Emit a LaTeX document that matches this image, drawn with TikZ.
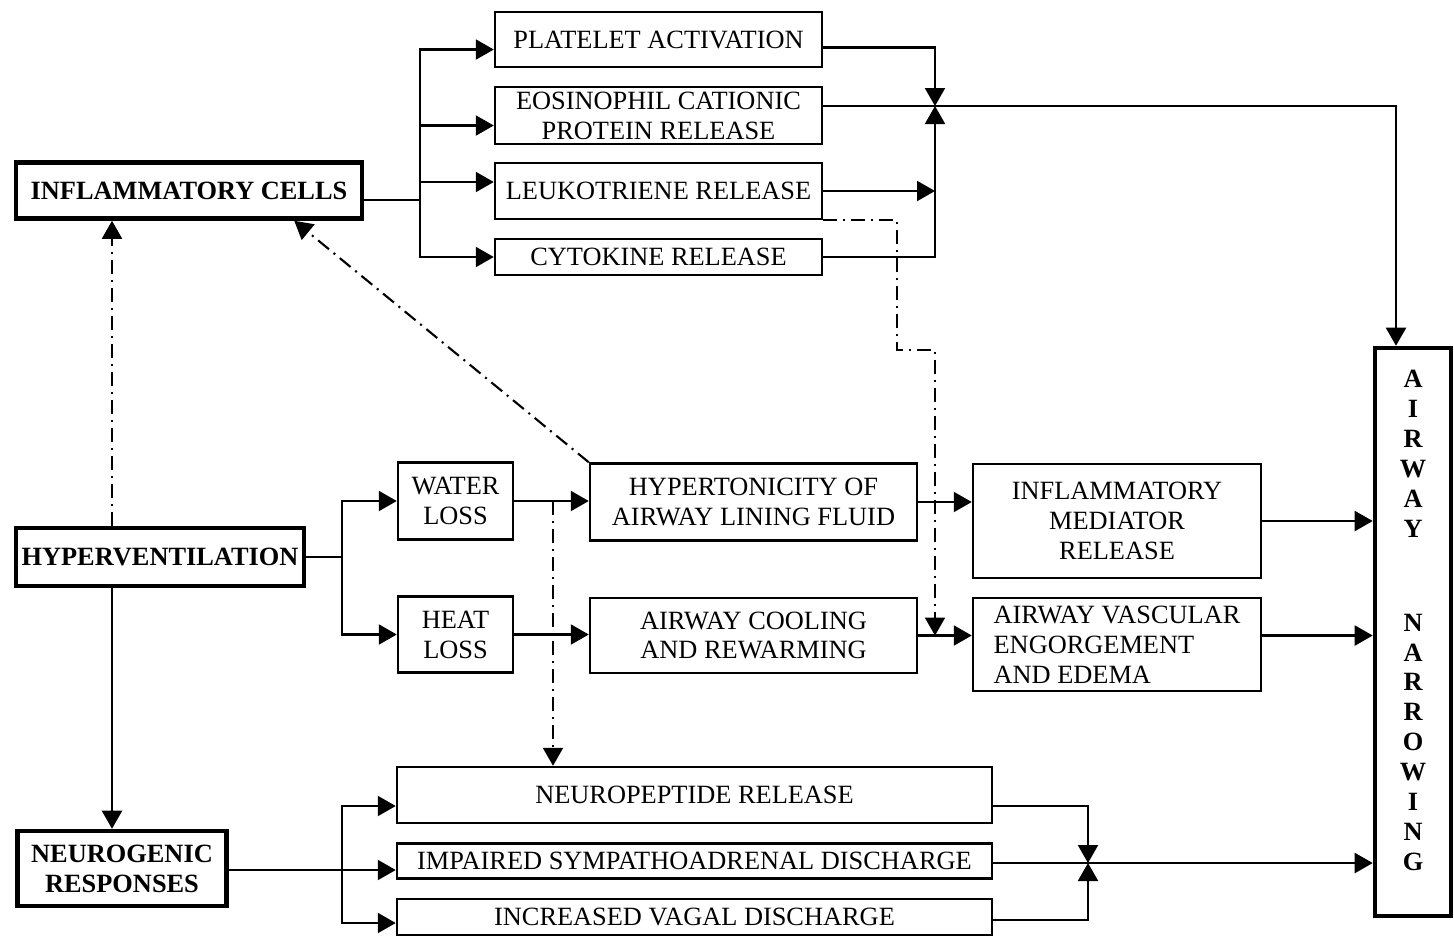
\documentclass[tikz,border=0pt]{standalone}
\usepackage{fontspec}
\setmainfont{Liberation Serif}
\usetikzlibrary{arrows.meta}

\tikzset{
  box/.style={draw, line width=0.7pt, inner sep=1pt, align=center,
              font=\fontsize{7.5}{8.5}\selectfont},
  mainbox/.style={box, line width=1.3pt, font=\fontsize{7.5}{8.5}\selectfont\bfseries},
  wire/.style={line width=0.6pt},
  flow/.style={wire, -{Triangle[length=1.8mm,width=2mm]}},
  link/.style={wire, dash pattern=on 1.4mm off 0.6mm on 0.2mm off 0.6mm},
  dflow/.style={link, -{Triangle[length=1.8mm,width=2mm]}},
}

\begin{document}
\begin{tikzpicture}[x=0.1mm, y=-0.1mm]
\useasboundingbox (0,0) rectangle (1454,939);

% left column
\node[mainbox, minimum width=34.6mm, minimum height=5.6mm] (infl) at (189,190.5) {INFLAMMATORY CELLS};
\node[mainbox, minimum width=28.8mm, minimum height=5.8mm] (hyper) at (160,557) {HYPERVENTILATION};
\node[mainbox, minimum width=20.9mm, minimum height=7.5mm] (neuro) at (122,868.5) {NEUROGENIC\\RESPONSES};

% cell products
\node[box, minimum width=32.7mm, minimum height=5.5mm] (plt) at (658.5,39.5) {PLATELET ACTIVATION};
\node[box, minimum width=32.7mm, minimum height=5.7mm] (eos) at (658.5,115.5) {EOSINOPHIL CATIONIC\\PROTEIN RELEASE};
\node[box, minimum width=32.7mm, minimum height=5.6mm] (leuk) at (658.5,191) {LEUKOTRIENE RELEASE};
\node[box, minimum width=32.7mm, minimum height=3.6mm] (cyto) at (658.5,257) {CYTOKINE RELEASE};

% airway row
\node[box, minimum width=11.5mm, minimum height=7.7mm] (water) at (455.5,501) {WATER\\LOSS};
\node[box, minimum width=11.5mm, minimum height=7.6mm] (heat) at (455.5,634.5) {HEAT\\LOSS};
\node[box, minimum width=32.7mm, minimum height=7.7mm] (hypt) at (753.5,502) {HYPERTONICITY OF\\AIRWAY LINING FLUID};
\node[box, minimum width=32.7mm, minimum height=7.5mm] (cool) at (753.5,635.5) {AIRWAY COOLING\\AND REWARMING};
\node[box, minimum width=28.8mm, minimum height=11.4mm] (med) at (1117,521) {INFLAMMATORY\\MEDIATOR\\RELEASE};
\node[box, minimum width=28.8mm, minimum height=9.3mm, align=left] (vasc) at (1117,644.5) {AIRWAY VASCULAR\\ENGORGEMENT\\AND EDEMA};

% neural responses
\node[box, minimum width=59.5mm, minimum height=5.6mm] (npep) at (694.5,795) {NEUROPEPTIDE RELEASE};
\node[box, minimum width=59.5mm, minimum height=3.5mm] (symp) at (694.5,861) {IMPAIRED SYMPATHOADRENAL DISCHARGE};
\node[box, minimum width=59.5mm, minimum height=3.6mm] (vagal) at (694.5,917) {INCREASED VAGAL DISCHARGE};

% airway narrowing
\node[mainbox, minimum width=7.6mm, minimum height=56.8mm] (nar) at (1413,632) {};
\node[font=\fontsize{7.5}{8.5}\selectfont\bfseries, align=center, inner sep=0pt] (nartext) at (1413,620.5)
  {A\\I\\R\\W\\A\\Y\\[6.4mm]N\\A\\R\\R\\O\\W\\I\\N\\G};

\coordinate (cellfork) at (420,200);
\coordinate (cellsum) at (935,106);
\coordinate (leakbend) at (897,350);
\coordinate (lcol) at (112,0);
\coordinate (hfork) at (342,557);
\coordinate (wtap) at (553,0);
\coordinate (nfork) at (342,870);
\coordinate (nsum) at (1088,863);

% inflammatory cells
\draw[wire] (infl.east |- cellfork) -- (cellfork);
\draw[flow] (cellfork) |- ([yshift=-1mm]plt.west);
\draw[flow] (cellfork) |- ([yshift=-1mm]eos.west);
\draw[flow] (cellfork) |- ([yshift=0.9mm]leuk.west);
\draw[flow] (cellfork) |- (cyto.west);
\draw[flow] ([yshift=-0.8mm]plt.east) -| (cellsum);
\draw[flow] (cyto.east) -| (cellsum);
\draw[flow] (leuk.east) -- (leuk.east -| cellsum);
\draw[flow] (eos.east |- cellsum) -| ([xshift=-1.7mm]nar.north);
\draw[dflow] (leuk.south east) -| (leakbend) -| (cellsum |- cool.east);

% hyperventilation
\draw[dflow] (lcol |- hyper.north) -- (lcol |- infl.south);
\draw[flow] (lcol |- hyper.south) -- (lcol |- neuro.north);
\draw[wire] (hyper.east) -- (hfork);
\draw[flow] (hfork) |- (water.west);
\draw[flow] (hfork) |- (heat.west);
\draw[flow] (water.east) -- (water.east -| hypt.west);
\draw[flow] (heat.east) -- (heat.east -| cool.west);
\draw[dflow] (wtap |- water.east) -- (wtap |- npep.north);
\draw[dflow] (hypt.north west) -- ([xshift=-7mm]infl.south east);
\draw[flow] (hypt.east) -- (hypt.east -| med.west);
\draw[flow] (cool.east) -- (cool.east -| vasc.west);
\draw[flow] (med.east) -- (med.east -| nar.west);
\draw[flow] (cool.east -| vasc.east) -- (cool.east -| nar.west);

% neurogenic responses
\draw[wire] (neuro.east |- nfork) -- (nfork);
\draw[flow] (nfork) |- ([yshift=-1.1mm]npep.west);
\draw[flow] (nfork) -- (nfork -| symp.west);
\draw[flow] (nfork) |- ([yshift=-0.6mm]vagal.west);
\draw[flow] ([yshift=-1.1mm]npep.east) -| (nsum);
\draw[flow] ([yshift=-0.3mm]vagal.east) -| (nsum);
\draw[flow] (symp.east |- nsum) -- (nsum -| nar.west);
\end{tikzpicture}
\end{document}
